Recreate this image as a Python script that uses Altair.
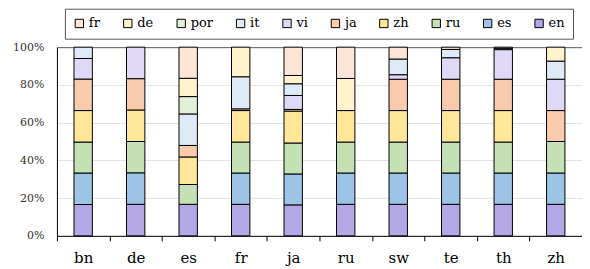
import altair as alt
import pandas as pd

categories = ["bn", "de", "es", "fr", "ja", "ru", "sw", "te", "th", "zh"]
languages = ["en", "es", "ru", "zh", "ja", "vi", "it", "por", "de", "fr"]  # bottom -> top
legend_order = ["fr", "de", "por", "it", "vi", "ja", "zh", "ru", "es", "en"]

en  = [16.6, 16.7, 16.7, 16.7, 16.4, 16.7, 16.7, 16.7, 16.7, 16.7]
es  = [16.7, 16.7, 0.0, 16.6, 16.4, 16.6, 16.6, 16.6, 16.6, 16.6]
ru  = [16.4, 16.6, 10.5, 16.4, 16.4, 16.4, 16.4, 16.4, 16.4, 16.7]
zh  = [16.7, 16.7, 14.6, 16.7, 16.9, 16.7, 16.7, 16.7, 16.7, 0.0]
ja  = [16.7, 16.6, 6.1, 0.9, 0.9, 0.0, 16.6, 16.6, 16.6, 16.4]
vi  = [10.9, 16.7, 0.0, 0.0, 7.4, 0.0, 2.4, 11.4, 15.7, 16.6]
it  = [6.0, 0.0, 16.7, 17.0, 6.2, 0.0, 8.3, 4.4, 0.7, 9.6]
por = [0.0, 0.0, 9.2, 0.0, 0.0, 0.0, 0.0, 0.0, 0.0, 0.0]
de  = [0.0, 0.0, 9.7, 15.7, 4.4, 17.0, 0.0, 0.0, 0.0, 7.4]
fr  = [0.0, 0.0, 16.5, 0.0, 15.0, 16.6, 6.3, 1.2, 0.6, 0.0]

series = {"en": en, "es": es, "ru": ru, "zh": zh, "ja": ja, "vi": vi,
          "it": it, "por": por, "de": de, "fr": fr}

colors = {
    "en": "#B4A7E5", "es": "#9DC3E6", "ru": "#C5E0B4", "zh": "#FFE699",
    "ja": "#F8CBAD", "vi": "#E0D9F5", "it": "#DEEBF7", "por": "#E2F0D9",
    "de": "#FFF2CC", "fr": "#FBE5D6",
}

rows = []
for i, lang in enumerate(languages):
    for cat, v in zip(categories, series[lang]):
        rows.append({"cat": cat, "lang": lang, "order": i, "value": v})
df = pd.DataFrame(rows)

FONT = "DejaVu Serif"

chart = alt.Chart(df).transform_filter("datum.value > 0").mark_bar(
    stroke="#000000", strokeWidth=1, width={"band": 0.35}
).encode(
    x=alt.X("cat:N", sort=categories, title=None,
            scale=alt.Scale(paddingInner=0, paddingOuter=0),
            axis=alt.Axis(labelAngle=0, tickBand="extent", domainColor="#000000",
                          tickColor="#000000", tickSize=5, labelFontSize=15,
                          labelPadding=10, labelColor="#000000", labelFont=FONT,
                          grid=False)),
    y=alt.Y("value:Q", stack="normalize", title=None,
            axis=alt.Axis(format=".0%", values=[0, 0.2, 0.4, 0.6, 0.8, 1.0],
                          ticks=False, domainColor="#000000", labelFontSize=11,
                          labelPadding=13, labelColor="#333333", labelFont=FONT,
                          gridColor={"condition": {"test": "datum.value === 1", "value": "#595959"},
                                     "value": "#E3E3E3"},
                          gridWidth=1)),
    color=alt.Color("lang:N",
                    scale=alt.Scale(domain=legend_order,
                                    range=[colors[l] for l in legend_order]),
                    legend=alt.Legend(title=None, orient="none", direction="horizontal",
                                      columns=10, legendX=8, legendY=-38.5,
                                      symbolType="square", symbolSize=70,
                                      symbolStrokeColor="#000000", symbolStrokeWidth=1,
                                      labelFontSize=13, labelFont=FONT, labelColor="#000000",
                                      columnPadding=20.5, padding=8, labelOffset=3,
                                      strokeColor="#555555")),
    order=alt.Order("order:Q", sort="ascending"),
).properties(
    width=526, height=189,
    autosize=alt.AutoSizeParams(type="none"),
    padding={"left": 49, "top": 39, "right": 0, "bottom": 32},
).configure_view(stroke=None).configure_legend(strokeWidth=1)

chart.save("out.html", embed_options={"renderer": "svg", "actions": False})
